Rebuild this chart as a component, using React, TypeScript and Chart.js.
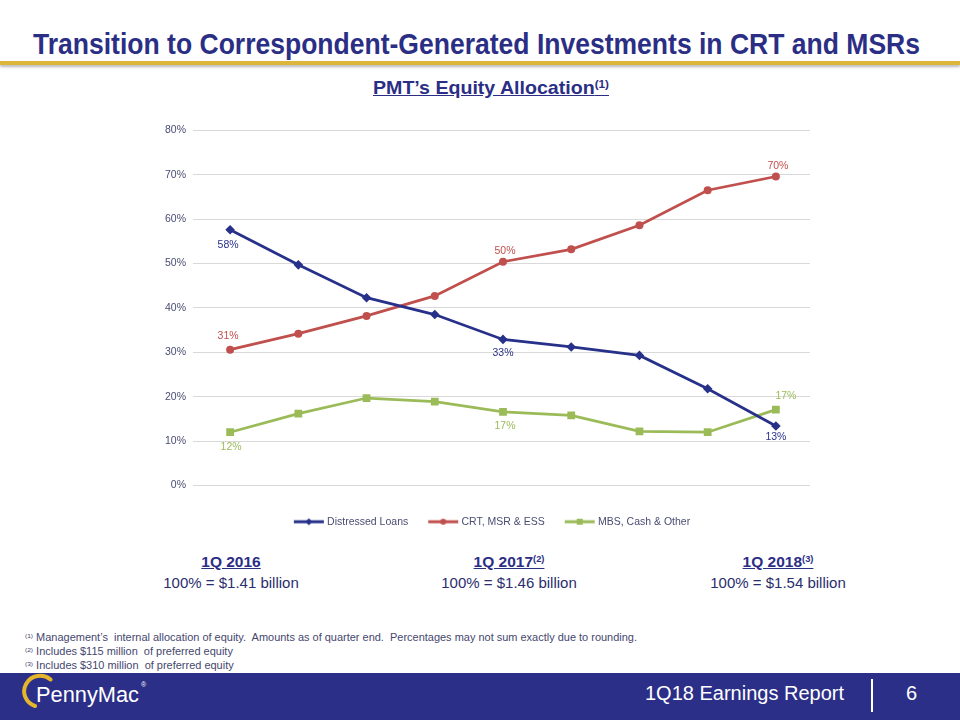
import React, { useEffect, useLayoutEffect, useRef } from "react";
import { Chart, registerables } from "chart.js";

Chart.register(...registerables);

// ---------- data ----------
const quarters = ["1Q16", "2Q16", "3Q16", "4Q16", "1Q17", "2Q17", "3Q17", "4Q17", "1Q18"];
const distressedLoans = [57.6, 49.7, 42.3, 38.5, 32.9, 31.2, 29.3, 21.8, 13.4];
const crtMsrEss = [30.6, 34.2, 38.2, 42.7, 50.4, 53.2, 58.6, 66.5, 69.6];
const mbsCashOther = [12.0, 16.2, 19.7, 18.9, 16.6, 15.8, 12.2, 12.0, 17.1];
const seriesNames = ["Distressed Loans", "CRT, MSR & ESS", "MBS, Cash & Other"];
const labeledIndices = [0, 4, 8];

// ---------- style ----------
const NAVY = "#27318a";
const RED = "#c0504d";
const GREEN = "#9bbb59";
const TEXT = "#4a4c72";
const TITLE = "#2b2e85";
const FONT = '"Liberation Sans", Arial, sans-serif';
const seriesColors = [NAVY, RED, GREEN];
const LEGEND_SHIFT = 13;
// label offsets (dx, dy) per series, per labeled index
const labelOffsets = [
  [[-2, 15], [0, 14], [0, 11]],
  [[-2, -14], [2, -11], [2, -10]],
  [[1, 15], [2, 14], [10, -13]],
];

function makeIcon(color: string, shape: string) {
  const c = document.createElement("canvas");
  c.width = 32;
  c.height = 10;
  const g = c.getContext("2d")!;
  g.strokeStyle = color;
  g.lineWidth = 3;
  g.beginPath();
  g.moveTo(1, 5);
  g.lineTo(31, 5);
  g.stroke();
  g.fillStyle = color;
  g.beginPath();
  if (shape === "diamond") {
    g.moveTo(16, 1.5);
    g.lineTo(19.5, 5);
    g.lineTo(16, 8.5);
    g.lineTo(12.5, 5);
    g.closePath();
  } else if (shape === "circle") {
    g.arc(16, 5, 3, 0, Math.PI * 2);
  } else {
    g.rect(13, 2, 6, 6);
  }
  g.fill();
  return c;
}

const pointLabelsPlugin = {
  id: "pointLabels",
  afterDatasetsDraw(chart: any) {
    const ctx = chart.ctx;
    chart.data.datasets.forEach((ds: any, di: number) => {
      const meta = chart.getDatasetMeta(di);
      labeledIndices.forEach((idx, k) => {
        const el = meta.data[idx];
        if (!el) return;
        const [dx, dy] = labelOffsets[di][k];
        ctx.save();
        ctx.font = `10.5px ${FONT}`;
        ctx.fillStyle = seriesColors[di];
        ctx.textAlign = "center";
        ctx.textBaseline = "middle";
        ctx.fillText(Math.round(ds.data[idx]) + "%", el.x + dx, el.y + dy);
        ctx.restore();
      });
    });
  },
};

const legendShiftPlugin = {
  id: "legendShift",
  afterLayout(chart: any) {
    if (chart.legend) {
      chart.legend.left += LEGEND_SHIFT;
      chart.legend.right += LEGEND_SHIFT;
    }
  },
};

function Fit({ width, style, children }: any) {
  const ref = useRef<HTMLDivElement>(null);
  useLayoutEffect(() => {
    const el = ref.current;
    if (!el) return;
    el.style.transform = "none";
    const w = el.getBoundingClientRect().width;
    if (w > 0) el.style.transform = `scaleX(${width / w})`;
  });
  return (
    <div
      ref={ref}
      style={{
        position: "absolute",
        whiteSpace: "pre",
        display: "inline-block",
        transformOrigin: "left top",
        ...style,
      }}
    >
      {children}
    </div>
  );
}

function EquityChart() {
  const canvasRef = useRef<HTMLCanvasElement>(null);
  useEffect(() => {
    const icons = [makeIcon(NAVY, "diamond"), makeIcon(RED, "circle"), makeIcon(GREEN, "square")];
    const chart = new Chart(canvasRef.current!, {
      type: "line",
      data: {
        labels: quarters,
        datasets: [
          {
            label: seriesNames[0],
            data: distressedLoans,
            borderColor: NAVY,
            backgroundColor: NAVY,
            borderWidth: 2.75,
            pointStyle: "rectRot",
            pointRadius: 4.8,
            pointBorderWidth: 0,
          },
          {
            label: seriesNames[1],
            data: crtMsrEss,
            borderColor: RED,
            backgroundColor: RED,
            borderWidth: 2.75,
            pointStyle: "circle",
            pointRadius: 4,
            pointBorderWidth: 0,
          },
          {
            label: seriesNames[2],
            data: mbsCashOther,
            borderColor: GREEN,
            backgroundColor: GREEN,
            borderWidth: 2.75,
            pointStyle: "rect",
            pointRadius: 5.5,
            pointBorderWidth: 0,
          },
        ],
      },
      options: {
        responsive: false,
        animation: false,
        layout: { padding: { top: 8, right: 20, bottom: 1, left: 0 } },
        scales: {
          x: {
            offset: true,
            grid: { display: false },
            border: { display: false },
            ticks: { color: TEXT, font: { family: FONT, size: 10.5 }, padding: 6 },
            afterFit: (s: any) => {
              s.height = 9;
            },
          },
          y: {
            min: 0,
            max: 80,
            ticks: {
              stepSize: 10,
              color: TEXT,
              font: { family: FONT, size: 10.5 },
              padding: 7,
              callback: (v: any) => v + "%",
            },
            grid: { color: "#d9d9d9", tickLength: 3, lineWidth: 1 },
            border: { display: false },
            afterFit: (s: any) => {
              s.width = 46;
            },
          },
        },
        plugins: {
          legend: {
            position: "bottom",
            labels: {
              usePointStyle: true,
              pointStyleWidth: 26,
              padding: 22,
              color: TEXT,
              font: { family: FONT, size: 10.5 },
              generateLabels: (ch: any) => {
                const base = (Chart.defaults.plugins.legend.labels as any).generateLabels(ch);
                return base.map((it: any, i: number) => ({ ...it, pointStyle: icons[i] }));
              },
            },
          },
          tooltip: { enabled: false },
        },
      },
      plugins: [pointLabelsPlugin, legendShiftPlugin],
    } as any);
    return () => chart.destroy();
  }, []);
  return (
    <canvas
      ref={canvasRef}
      width={680}
      height={421}
      style={{ position: "absolute", left: 150, top: 117, width: 680, height: 421 }}
    />
  );
}

const sup = { fontSize: "0.6em", verticalAlign: "0.55em", lineHeight: 0 } as const;

export default function App() {
  return (
    <div
      style={{
        position: "absolute",
        left: 0,
        top: 0,
        width: 960,
        height: 720,
        background: "#fff",
        overflow: "hidden",
        fontFamily: FONT,
      }}
    >
      {/* Title */}
      <Fit width={887} style={{ left: 33, top: 28, fontSize: 30, lineHeight: "31px", fontWeight: 700, color: TITLE }}>
        Transition to Correspondent-Generated Investments in CRT and MSRs
      </Fit>
      <div
        style={{
          position: "absolute",
          left: 0,
          top: 61,
          width: 960,
          height: 4,
          background: "#dcb63a",
          boxShadow: "0 2px 3px rgba(0,0,0,0.28)",
        }}
      />
      {/* Subtitle */}
      <Fit width={236} style={{ left: 373, top: 77, fontSize: 19, lineHeight: "21px", fontWeight: 700, color: TITLE, textDecoration: "underline" }}>
        PMT’s Equity Allocation<span style={sup}>(1)</span>
      </Fit>

      <EquityChart />

      {/* Summary blocks */}
      {[
        { c: 231, h: "1Q 2016", n: "", v: "100% = $1.41 billion" },
        { c: 509, h: "1Q 2017", n: "(2)", v: "100% = $1.46 billion" },
        { c: 778, h: "1Q 2018", n: "(3)", v: "100% = $1.54 billion" },
      ].map((b) => (
        <div key={b.h} style={{ position: "absolute", left: b.c - 110, top: 552, width: 220, textAlign: "center" }}>
          <div style={{ fontSize: 15.5, lineHeight: "20px", fontWeight: 700, color: TITLE, textDecoration: "underline" }}>
            {b.h}
            {b.n && <span style={sup}>{b.n}</span>}
          </div>
          <div style={{ fontSize: 15, lineHeight: "22px", color: "#2a2d6e" }}>{b.v}</div>
        </div>
      ))}

      {/* Footnotes */}
      <Fit width={612} style={{ left: 25, top: 631, fontSize: 10, lineHeight: "14px", color: "#45476e" }}>
        <div style={{ height: 14 }}>
          <span style={sup}>(1)</span> Management’s  internal allocation of equity.  Amounts as of quarter end.  Percentages may not sum exactly due to rounding.
        </div>
        <div style={{ height: 14 }}>
          <span style={sup}>(2)</span> Includes $115 million  of preferred equity
        </div>
        <div style={{ height: 14 }}>
          <span style={sup}>(3)</span> Includes $310 million  of preferred equity
        </div>
      </Fit>

      {/* Footer band */}
      <div style={{ position: "absolute", left: 0, top: 673, width: 960, height: 47, background: "#2c2f88" }} />
      <svg width={170} height={47} style={{ position: "absolute", left: 0, top: 673 }}>
        <path d="M 50.5 6.5 A 16 15.5 0 1 0 35 33" stroke="#e4b62c" strokeWidth={4} fill="none" strokeLinecap="round" />
        <text
          x={36}
          y={29}
          fill="#ffffff"
          fontFamily={FONT}
          fontSize={22}
          textLength={103}
          lengthAdjust="spacingAndGlyphs"
        >
          PennyMac
        </text>
        <text x={141} y={14} fill="#ffffff" fontFamily={FONT} fontSize={7}>
          ®
        </text>
      </svg>
      <div
        style={{
          position: "absolute",
          left: 645,
          top: 681,
          fontSize: 20,
          lineHeight: "24px",
          color: "#fff",
          whiteSpace: "pre",
        }}
      >
        1Q18 Earnings Report
      </div>
      <div style={{ position: "absolute", left: 871, top: 679, width: 2, height: 33, background: "#fff" }} />
      <div style={{ position: "absolute", left: 906, top: 681, fontSize: 20, lineHeight: "24px", color: "#fff" }}>6</div>
    </div>
  );
}
